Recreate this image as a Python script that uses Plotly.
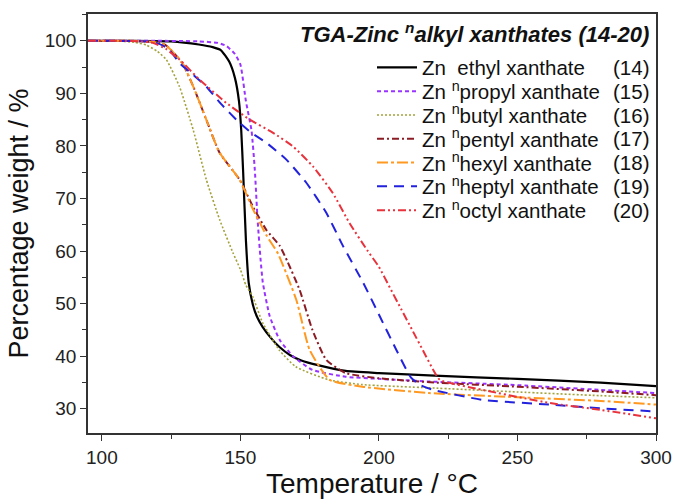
import plotly.graph_objects as go

# ---------------- data ----------------
names = [
    "Zn  ethyl xanthate",
    "Zn <sup>n</sup>propyl xanthate",
    "Zn <sup>n</sup>butyl xanthate",
    "Zn <sup>n</sup>pentyl xanthate",
    "Zn <sup>n</sup>hexyl xanthate",
    "Zn <sup>n</sup>heptyl xanthate",
    "Zn <sup>n</sup>octyl xanthate",
]
labels = ["(14)", "(15)", "(16)", "(17)", "(18)", "(19)", "(20)"]

ethyl_T = [95, 110, 125, 135, 140, 143, 146, 148, 149.5, 150.3, 151, 152, 153, 154.5, 156, 158, 161, 164, 168, 172, 178, 188, 200, 220, 250, 280, 300]
ethyl_W = [100, 100, 99.9, 99.3, 98.8, 98.2, 96, 93, 88.5, 83, 75, 62, 54, 49.8, 47.5, 45.6, 43.5, 41.8, 40.2, 39.2, 38.3, 37.2, 36.8, 36.3, 35.7, 35.0, 34.3]

propyl_T = [95, 120, 135, 142, 145, 148, 150, 152, 154, 155.2, 156.2, 157.3, 158.1, 160.6, 164.2, 169, 176, 188, 200, 218, 250, 280, 300]
propyl_W = [100, 100, 99.9, 99.6, 99, 97.5, 95.5, 88.5, 83, 75.5, 66, 58.3, 54, 47.6, 43.1, 40, 37.4, 36.1, 35.7, 35.2, 34.5, 33.6, 33.0]

butyl_T = [95, 105, 112, 116, 120, 123.3, 128, 133, 137.7, 142.5, 147.3, 150, 152, 154.4, 158, 164, 170, 182, 194, 218, 250, 280, 300]
butyl_W = [100, 100, 99.7, 99.2, 98, 96.4, 91.3, 83, 73.6, 66, 59.7, 56.5, 53.5, 51.4, 46.4, 41.2, 38, 35.5, 34.6, 34, 33.2, 32.5, 32.1]

pentyl_T = [95, 110, 118, 123, 129, 133, 137.7, 142.5, 149.7, 154.5, 159.4, 164.2, 167, 171.4, 176, 181, 188, 200, 220, 250, 280, 300]
pentyl_W = [100, 100, 99.8, 99.2, 95.8, 91.3, 85, 78.7, 73.6, 68.5, 64, 61, 58, 52.6, 45, 39.3, 36.8, 35.8, 35, 34.2, 33.3, 32.6]

hexyl_T = [95, 110, 118, 123, 129, 133, 137.7, 142.5, 149.7, 154.5, 159.4, 163.6, 170.2, 175, 182.2, 194, 218, 250, 280, 300]
hexyl_W = [100, 100, 99.8, 99.2, 95.8, 91.3, 85, 78.7, 73.6, 68, 63, 59.5, 50.7, 41.2, 35.5, 34.2, 33, 32.2, 31.5, 30.8]

heptyl_T = [95, 105, 115, 119.7, 124, 128, 133, 137.7, 143, 149.7, 154, 159.4, 166.6, 173.8, 181, 187, 194.3, 200.3, 206.3, 211.5, 215, 219.6, 237.5, 261.7, 280, 300]
heptyl_W = [100, 100, 99.9, 99.6, 98.5, 95.8, 93.5, 91.3, 88, 84.4, 82.5, 80.6, 77.4, 73, 67.3, 61, 54, 47.6, 41.2, 36, 34.5, 33.6, 31.7, 30.8, 30.1, 29.5]

octyl_T = [95, 105, 114, 118.4, 123, 128.1, 135.3, 144.9, 153.4, 161.8, 169, 176.2, 183.4, 189.4, 196, 200, 204, 208, 212, 216, 219.6, 222, 237.5, 261.7, 280, 300]
octyl_W = [100, 100, 99.9, 99.6, 98.5, 96.4, 92.6, 88.2, 85, 82.5, 79.9, 76.1, 71, 65.3, 60, 57, 53, 49, 45, 41, 37.4, 35.5, 33.6, 31.1, 29.8, 28.2]

x_ticks = [100, 150, 200, 250, 300]
y_ticks = [30, 40, 50, 60, 70, 80, 90, 100]

# ---------------- styling ----------------
series = [
    (ethyl_T, ethyl_W, "#000000", "solid", 2.2),
    (propyl_T, propyl_W, "#9933ff", "4px,3px", 2.0),
    (butyl_T, butyl_W, "#a3a23c", "2px,2px", 1.6),
    (pentyl_T, pentyl_W, "#8b1c24", "7px,3px,2px,3px", 2.0),
    (hexyl_T, hexyl_W, "#ff9922", "11px,3px,3px,3px", 2.0),
    (heptyl_T, heptyl_W, "#2222dd", "10px,7px", 2.0),
    (octyl_T, octyl_W, "#e8323c", "8px,3px,2px,3px,2px,3px", 2.0),
]

FONT = "Liberation Sans, Arial, sans-serif"
LEG_FONT = 20.5

W, H = 674, 501
PL, PR, PT, PB = 88, 18, 14, 68   # plot area at x 88..656, y 14..433
plot_w = W - PL - PR
plot_h = H - PT - PB
row_px0, row_step = 67.5, 23.8    # pixel rows of the legend entries


def xpaper(xpx):
    return (xpx - PL) / plot_w


def ypaper(ypx):
    return 1 - (ypx - PT) / plot_h


fig = go.Figure()
layout_legends = {}
for i, (name, (tx, wy, col, dash, w)) in enumerate(zip(names, series)):
    lg = "legend" if i == 0 else f"legend{i + 1}"
    fig.add_trace(go.Scatter(
        x=tx, y=wy, mode="lines", name=name, legend=lg, showlegend=True,
        line=dict(color=col, dash=dash, width=w, shape="spline", smoothing=0.5),
    ))
    layout_legends[lg] = dict(
        x=xpaper(372), y=ypaper(row_px0 + i * row_step),
        xanchor="left", yanchor="middle",
        bgcolor="rgba(0,0,0,0)", borderwidth=0,
        font=dict(family=FONT, size=LEG_FONT, color="#111111"),
        itemwidth=40,
    )

axis_common = dict(
    showline=True, linecolor="#333333", linewidth=1.5, mirror=True,
    ticks="outside", ticklen=6, tickwidth=1.3, tickcolor="#333333",
    showgrid=False, zeroline=False, automargin=False,
    tickfont=dict(family=FONT, size=19, color="#222222"),
)

fig.update_xaxes(
    range=[95, 300], tickvals=x_ticks,
    minor=dict(dtick=25, ticklen=4, tickcolor="#333333", ticks="outside", tick0=0),
    title=dict(text="Temperature / °C", font=dict(family=FONT, size=28, color="#111111"), standoff=6),
    **axis_common,
)
fig.update_yaxes(
    range=[25.4, 105.1], tickvals=y_ticks,
    minor=dict(dtick=5, ticklen=4, tickcolor="#333333", ticks="outside", tick0=0),
    title=dict(text="Percentage weight / %", font=dict(family=FONT, size=27, color="#111111"), standoff=8),
    **axis_common,
)

fig.update_layout(
    width=W, height=H,
    margin=dict(l=PL, r=PR, t=PT, b=PB),
    paper_bgcolor="white", plot_bgcolor="white",
    font=dict(family=FONT, color="#111111"),
    showlegend=True,
    **layout_legends,
)

# legend title
fig.add_annotation(
    text="<b><i>TGA-Zinc <sup>n</sup>alkyl xanthates (14-20)</i></b>",
    xref="paper", yref="paper", x=xpaper(651), y=ypaper(33),
    xanchor="right", yanchor="middle",
    showarrow=False, font=dict(family=FONT, size=22, color="#111111"),
)

# compound numbers column
for i, lab in enumerate(labels):
    fig.add_annotation(
        text=lab, xref="paper", yref="paper", x=xpaper(651),
        y=ypaper(row_px0 + i * row_step), xanchor="right", yanchor="middle",
        showarrow=False, font=dict(family=FONT, size=LEG_FONT, color="#111111"),
    )

fig.write_html(
    "out.html",
    config={"displayModeBar": False},
    post_script="document.body.style.margin='0';document.body.style.overflow='hidden';",
)
